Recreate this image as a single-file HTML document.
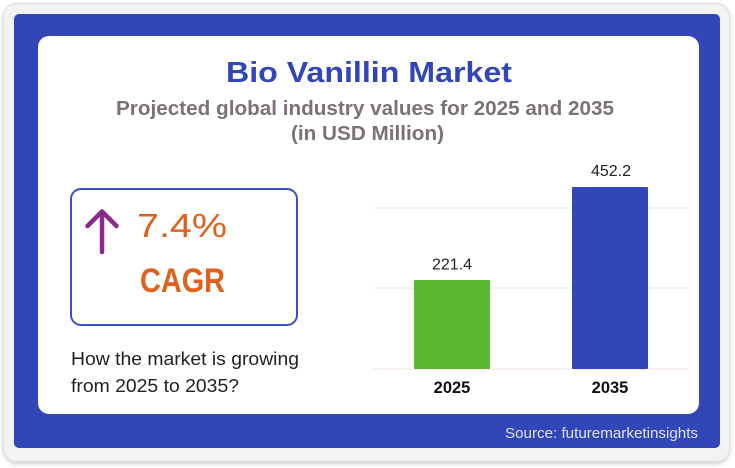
<!DOCTYPE html>
<html>
<head>
<meta charset="utf-8">
<style>
  html,body{margin:0;padding:0;background:#ffffff;}
  svg{display:block;}
  text{font-family:"Liberation Sans", Arial, sans-serif;}
</style>
</head>
<body>
<svg width="735" height="468" viewBox="0 0 735 468" xmlns="http://www.w3.org/2000/svg">
  <defs>
    <filter id="sh" x="-5%" y="-5%" width="110%" height="112%">
      <feDropShadow dx="0" dy="2" stdDeviation="2" flood-color="#000" flood-opacity="0.18"/>
    </filter>
  </defs>
  <!-- outer card -->
  <rect x="3.5" y="3.5" width="726" height="458" rx="13" fill="#f3f3f3" stroke="#dedede" stroke-width="1" filter="url(#sh)"/>
  <!-- blue panel -->
  <rect x="14" y="14" width="706" height="434" rx="5" fill="#3246b8"/>
  <!-- white inner -->
  <rect x="38" y="36" width="661" height="378" rx="11" fill="#ffffff"/>

  <!-- title -->
  <text x="369" y="82" text-anchor="middle" font-size="29" font-weight="bold" fill="#3246b8" textLength="286" lengthAdjust="spacingAndGlyphs">Bio Vanillin Market</text>
  <text x="365" y="115" text-anchor="middle" font-size="20" font-weight="bold" fill="#7b7373" textLength="498" lengthAdjust="spacingAndGlyphs">Projected global industry values for 2025 and 2035</text>
  <text x="367.5" y="140" text-anchor="middle" font-size="20" font-weight="bold" fill="#7b7373" textLength="153" lengthAdjust="spacingAndGlyphs">(in USD Million)</text>

  <!-- CAGR box -->
  <rect x="71" y="189" width="226" height="136" rx="10" fill="none" stroke="#3a4fc4" stroke-width="2"/>
  <path d="M102 252 V212 M87.5 226 L102 211.5 L116.5 226" fill="none" stroke="#8b2a8c" stroke-width="4.5" stroke-linecap="round" stroke-linejoin="round"/>
  <text x="137" y="237" font-size="33" fill="#e0601c" textLength="90" lengthAdjust="spacingAndGlyphs">7.4%</text>
  <text x="140" y="292" font-size="34" font-weight="bold" fill="#e0601c" textLength="85" lengthAdjust="spacingAndGlyphs">CAGR</text>

  <text x="71" y="365" font-size="18" fill="#222222" textLength="228" lengthAdjust="spacingAndGlyphs">How the market is growing</text>
  <text x="71" y="392" font-size="18" fill="#222222" textLength="168" lengthAdjust="spacingAndGlyphs">from 2025 to 2035?</text>

  <!-- gridlines -->
  <line x1="373" y1="208" x2="688" y2="208" stroke="#fae3e3" stroke-width="1"/>
  <line x1="373" y1="288" x2="688" y2="288" stroke="#fae3e3" stroke-width="1"/>
  <line x1="373" y1="369" x2="688" y2="369" stroke="#fae3e3" stroke-width="1"/>

  <!-- bars -->
  <rect x="414" y="280" width="76" height="89" rx="1" fill="#5cb82f"/>
  <rect x="572" y="187" width="76" height="182" rx="1" fill="#3246b8"/>

  <text x="452" y="269.5" text-anchor="middle" font-size="16" fill="#222222">221.4</text>
  <text x="611" y="176" text-anchor="middle" font-size="16" fill="#222222">452.2</text>

  <text x="452" y="393" text-anchor="middle" font-size="16.5" font-weight="bold" fill="#111111">2025</text>
  <text x="610" y="393" text-anchor="middle" font-size="16.5" font-weight="bold" fill="#111111">2035</text>

  <!-- source -->
  <text x="698" y="438" text-anchor="end" font-size="15" fill="#dfe3f6" textLength="193" lengthAdjust="spacingAndGlyphs">Source: futuremarketinsights</text>
</svg>
</body>
</html>
